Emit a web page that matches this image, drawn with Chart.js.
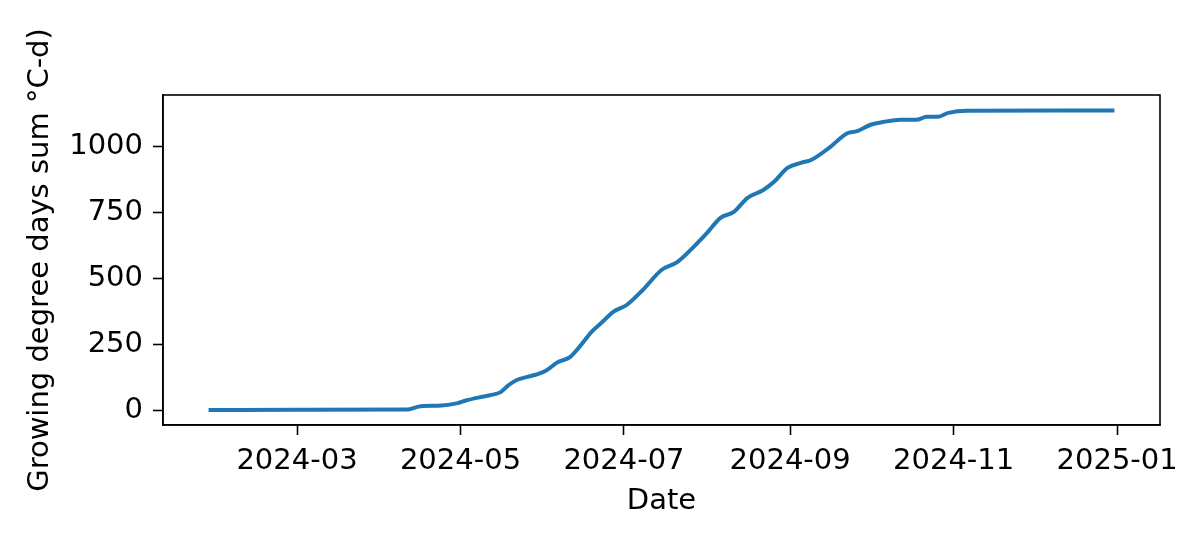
<!DOCTYPE html>
<html>
<head>
<meta charset="utf-8">
<script src="https://cdn.jsdelivr.net/npm/chart.js@4.4.1/dist/chart.umd.min.js"></script>
<style>
  html, body { margin: 0; padding: 0; background: #ffffff; }
  canvas { display: block; }
</style>
</head>
<body>
<canvas id="c" width="1200" height="536"></canvas>
<script>
// ---- data ----
const dates = [
  "2024-01-28","2024-03-01","2024-04-11","2024-04-15","2024-04-17","2024-04-24",
  "2024-04-30","2024-05-03","2024-05-08","2024-05-12","2024-05-16","2024-05-19",
  "2024-05-22","2024-05-26","2024-05-29","2024-06-02","2024-06-06","2024-06-11",
  "2024-06-14","2024-06-19","2024-06-23","2024-06-27","2024-07-02","2024-07-08",
  "2024-07-15","2024-07-21","2024-07-27","2024-08-01","2024-08-06","2024-08-11",
  "2024-08-16","2024-08-22","2024-08-26","2024-08-31","2024-09-05","2024-09-09",
  "2024-09-16","2024-09-22","2024-09-26","2024-10-01","2024-10-06","2024-10-12",
  "2024-10-18","2024-10-22","2024-10-26","2024-10-30","2024-11-06","2024-12-31"
];
const gddSum = [
  0, 1, 2, 12, 15, 17,
  26, 36, 48, 56, 68, 95,
  114, 126, 134, 150, 180, 202,
  235, 298, 335, 373, 399, 456,
  532, 563, 620, 673, 730, 753,
  805, 836, 867, 920, 939, 951,
  1000, 1050, 1060, 1084, 1095, 1103,
  1103, 1114, 1114, 1129, 1137, 1138
];
const xTickDates = ["2024-03-01","2024-05-01","2024-07-01","2024-09-01","2024-11-01","2025-01-01"];
const yTicks = [0, 250, 500, 750, 1000];
const xRange = ["2024-01-11", "2025-01-17"];
const yRange = [-57, 1197];
const xTitle = "Date";
const yTitle = "Growing degree days sum °C-d)";

// ---- build ----
const toTs = s => Date.parse(s);
const points = dates.map((d, i) => ({ x: toTs(d), y: gddSum[i] }));
const fmt = v => {
  const d = new Date(v);
  return d.getUTCFullYear() + "-" + String(d.getUTCMonth() + 1).padStart(2, "0");
};

const FONT = { family: "'DejaVu Sans', sans-serif", size: 29 };

const framePlugin = {
  id: "frame",
  afterDraw(chart) {
    const { ctx, chartArea: a } = chart;
    ctx.save();
    ctx.strokeStyle = "#000";
    ctx.lineWidth = 1.6;
    ctx.strokeRect(a.left, a.top, a.right - a.left, a.bottom - a.top);
    ctx.restore();
  }
};

new Chart(document.getElementById("c"), {
  type: "line",
  data: {
    datasets: [{
      data: points,
      borderColor: "#1f77b4",
      borderWidth: 4,
      pointRadius: 0,
      fill: false,
      cubicInterpolationMode: "monotone"
    }]
  },
  options: {
    responsive: false,
    animation: false,
    devicePixelRatio: 1,
    layout: { padding: { top: 95, right: 40, left: 0, bottom: 0 } },
    plugins: { legend: { display: false }, tooltip: { enabled: false } },
    scales: {
      x: {
        type: "linear",
        min: toTs(xRange[0]),
        max: toTs(xRange[1]),
        afterBuildTicks: s => { s.ticks = xTickDates.map(d => ({ value: toTs(d) })); },
        afterFit: s => { s.height = 111; s.paddingLeft = 0; s.paddingRight = 0; },
        ticks: { callback: v => fmt(v), color: "#000", font: FONT, padding: 9, maxRotation: 0, autoSkip: false },
        grid: { drawOnChartArea: false, drawTicks: true, tickLength: 10, tickColor: "#000", tickWidth: 1.6 },
        border: { display: true, color: "#000", width: 1.6 },
        title: { display: true, text: xTitle, color: "#000", font: FONT, padding: { top: 0, bottom: 17 } }
      },
      y: {
        min: yRange[0],
        max: yRange[1],
        afterBuildTicks: s => { s.ticks = yTicks.map(v => ({ value: v })); },
        afterFit: s => { s.width = 163; s.paddingTop = 0; s.paddingBottom = 0; },
        ticks: { color: "#000", font: FONT, padding: 10, callback: v => String(v) },
        grid: { drawOnChartArea: false, drawTicks: true, tickLength: 10, tickColor: "#000", tickWidth: 1.6 },
        border: { display: true, color: "#000", width: 1.6 },
        title: { display: true, text: yTitle, color: "#000", font: FONT, padding: { top: 23, bottom: 0 } }
      }
    }
  },
  plugins: [framePlugin]
});
</script>
</body>
</html>
